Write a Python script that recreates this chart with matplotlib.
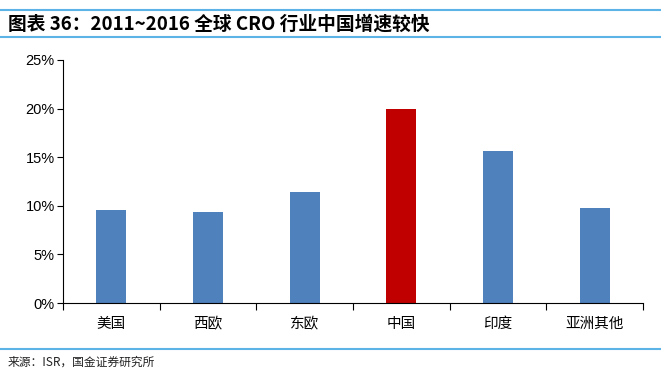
import matplotlib.pyplot as plt
from matplotlib.lines import Line2D
from matplotlib.ticker import FuncFormatter

plt.rcParams['font.family'] = ['Noto Sans CJK SC', 'DejaVu Sans']

# 各地区 2011~2016 CRO 行业增速
regions = ["美国", "西欧", "东欧", "中国", "印度", "亚洲其他"]
growth = [9.6, 9.4, 11.4, 20.0, 15.6, 9.8]
colors = ["#4F81BD", "#4F81BD", "#4F81BD", "#C00000", "#4F81BD", "#4F81BD"]
yticks = [0, 5, 10, 15, 20, 25]

fig = plt.figure(figsize=(6.61, 3.82), dpi=100)
ax = fig.add_axes([0.0953, 0.2068, 0.8775, 0.6362])

x = list(range(len(regions)))
ax.bar(x, growth, width=0.31, color=colors)

ax.set_xlim(-0.5, len(regions) - 0.5)
ax.set_ylim(0, 25)
ax.set_yticks(yticks)
ax.yaxis.set_major_formatter(FuncFormatter(lambda v, p: "%d%%" % v))
ax.tick_params(axis='y', labelsize=10.5, length=4, width=0.8, pad=2,
               labelfontfamily='Liberation Sans')

# 类别标签放在中间，刻度线在分界处
ax.set_xticks([i - 0.5 for i in range(len(regions) + 1)])
ax.set_xticklabels([])
ax.set_xticks(x, minor=True)
ax.set_xticklabels(regions, minor=True, fontsize=10.5)
ax.tick_params(axis='x', which='major', length=5, width=0.8)
ax.tick_params(axis='x', which='minor', length=0, pad=10)

for s in ['top', 'right']:
    ax.spines[s].set_visible(False)
ax.spines['left'].set_linewidth(0.8)
ax.spines['bottom'].set_linewidth(0.8)

# 标题和蓝色分隔线
line_color = "#5BB4E5"
fig.add_artist(Line2D([0.0, 1.0], [1 - 10 / 382, 1 - 10 / 382], color=line_color, lw=1.5))
fig.add_artist(Line2D([0.0, 1.0], [1 - 37 / 382, 1 - 37 / 382], color=line_color, lw=1.5))
fig.add_artist(Line2D([0.0, 1.0], [1 - 349 / 382, 1 - 349 / 382], color=line_color, lw=1.5))

fig.text(0.012, 1 - 24 / 382, "图表 36：2011~2016 全球 CRO 行业中国增速较快",
         fontsize=13.5, fontweight='bold', style='italic', va='center', ha='left')
fig.text(0.012, 1 - 362 / 382, "来源：ISR，国金证券研究所", fontsize=8.5,
         color="#222222", va='center', ha='left')

fig.savefig("out.png", dpi=100)
